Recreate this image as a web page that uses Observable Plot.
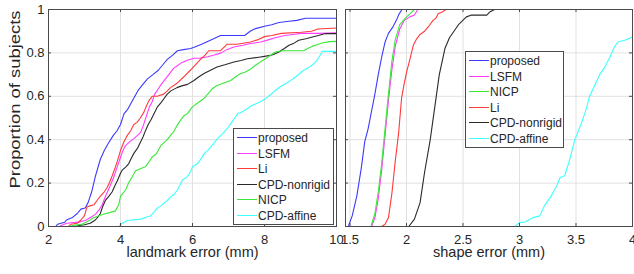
<!DOCTYPE html>
<html>
<head>
<meta charset="utf-8">
<script src="https://cdn.jsdelivr.net/npm/d3@7"></script>
<script src="https://cdn.jsdelivr.net/npm/@observablehq/plot@0.6"></script>
<style>
  html, body { margin: 0; padding: 0; background: #fff; }
  #wrap { position: relative; width: 634px; height: 274px; background: #fff; overflow: hidden; }
  #wrap svg { position: absolute; top: 0; overflow: visible; }
  .legend { position: absolute; background: #fff; border: 1px solid #4a4a4a; box-sizing: border-box;
            font-family: 'Liberation Sans', Arial, Helvetica, sans-serif; font-size: 12px; color: #262626; }
  .legend .row { position: absolute; left: 0; height: 16px; white-space: nowrap; }
  .legend .sw { position: absolute; left: 3px; top: 7px; width: 20px; height: 1px; }
  .legend .tx { position: absolute; left: 24px; top: 1px; line-height: 14px; }
</style>
</head>
<body>
<div id="wrap"></div>
<script>
// ---------- data ----------
const yTicks = [0, 0.2, 0.4, 0.6, 0.8, 1];
const landmarkTicks = [2, 4, 6, 8, 10];
const shapeTicks = [1.5, 2, 2.5, 3, 3.5, 4];

const landmarkNames = ["proposed", "LSFM", "Li", "CPD-nonrigid", "NICP", "CPD-affine"];
const shapeNames = ["proposed", "LSFM", "NICP", "Li", "CPD-nonrigid", "CPD-affine"];

const colors = {
  "proposed": "#3a3aff",
  "LSFM": "#ff3cff",
  "Li": "#ff3a3a",
  "CPD-nonrigid": "#2a2a2a",
  "NICP": "#3ae83a",
  "CPD-affine": "#3cffff"
};

// landmark error (mm) cumulative curves [error, proportion]
const lmProposed = [[2,0],[2.2,0],[2.25,0.01],[2.45,0.02],[2.5,0.03],[2.65,0.04],[2.8,0.06],[2.9,0.08],[3.02,0.085],[3.1,0.11],[3.2,0.16],[3.3,0.23],[3.44,0.31],[3.55,0.35],[3.65,0.38],[3.8,0.42],[3.9,0.44],[4.0,0.47],[4.1,0.52],[4.2,0.54],[4.33,0.58],[4.5,0.63],[4.6,0.65],[4.75,0.68],[4.9,0.70],[5.05,0.72],[5.2,0.75],[5.3,0.77],[5.45,0.79],[5.58,0.81],[5.75,0.815],[5.95,0.82],[6.1,0.83],[6.25,0.84],[6.45,0.855],[6.6,0.866],[6.78,0.88],[7.0,0.88],[7.45,0.88],[7.6,0.9],[7.75,0.912],[8.03,0.924],[8.2,0.93],[8.4,0.94],[8.68,0.946],[8.9,0.95],[9.14,0.96],[10,0.96]];
const lmLSFM = [[2,0],[2.3,0],[2.5,0.015],[2.84,0.02],[3.05,0.03],[3.2,0.045],[3.31,0.057],[3.4,0.075],[3.49,0.10],[3.56,0.13],[3.63,0.157],[3.72,0.19],[3.81,0.226],[3.9,0.27],[4.0,0.319],[4.07,0.35],[4.14,0.373],[4.25,0.39],[4.37,0.404],[4.47,0.42],[4.56,0.434],[4.65,0.473],[4.74,0.52],[4.8,0.55],[4.88,0.575],[4.95,0.61],[5.05,0.635],[5.11,0.65],[5.25,0.68],[5.39,0.71],[5.48,0.73],[5.57,0.74],[5.7,0.755],[5.85,0.766],[6.05,0.775],[6.22,0.776],[6.42,0.782],[6.6,0.79],[6.8,0.80],[6.95,0.815],[7.15,0.827],[7.4,0.835],[7.61,0.843],[7.9,0.85],[8.1,0.86],[8.3,0.87],[8.56,0.88],[8.8,0.885],[9.02,0.89],[9.5,0.89],[10,0.893]];
const lmLi = [[2,0],[2.55,0],[2.62,0.01],[2.8,0.015],[2.9,0.03],[3.0,0.05],[3.07,0.09],[3.15,0.095],[3.26,0.10],[3.35,0.12],[3.44,0.14],[3.55,0.16],[3.63,0.18],[3.7,0.205],[3.77,0.234],[3.85,0.27],[3.91,0.30],[4.0,0.35],[4.09,0.388],[4.19,0.42],[4.28,0.44],[4.37,0.47],[4.46,0.48],[4.55,0.50],[4.65,0.527],[4.72,0.555],[4.79,0.58],[4.88,0.60],[5.02,0.60],[5.2,0.61],[5.3,0.625],[5.39,0.64],[5.57,0.66],[5.76,0.69],[5.94,0.72],[6.08,0.745],[6.22,0.77],[6.35,0.79],[6.45,0.81],[6.78,0.81],[6.9,0.83],[6.96,0.84],[7.24,0.84],[7.61,0.85],[7.8,0.86],[8.0,0.875],[8.2,0.88],[8.47,0.89],[9.02,0.895],[9.3,0.9],[9.49,0.91],[10,0.915]];
const lmCPDnonrigid = [[2,0],[2.75,0],[2.85,0.005],[3.0,0.008],[3.16,0.015],[3.3,0.03],[3.38,0.045],[3.44,0.06],[3.5,0.09],[3.58,0.12],[3.68,0.14],[3.77,0.16],[3.85,0.19],[3.91,0.21],[4.0,0.245],[4.05,0.26],[4.15,0.275],[4.23,0.29],[4.3,0.315],[4.37,0.337],[4.47,0.36],[4.56,0.39],[4.63,0.415],[4.7,0.444],[4.77,0.47],[4.84,0.49],[4.93,0.52],[5.02,0.55],[5.12,0.57],[5.21,0.59],[5.3,0.61],[5.4,0.625],[5.57,0.64],[5.7,0.648],[5.86,0.655],[6.04,0.673],[6.18,0.69],[6.32,0.705],[6.5,0.72],[6.68,0.735],[6.9,0.745],[7.15,0.758],[7.35,0.765],[7.52,0.773],[7.84,0.78],[8.0,0.784],[8.21,0.79],[8.4,0.804],[8.55,0.82],[8.68,0.835],[8.82,0.845],[8.95,0.858],[9.15,0.865],[9.33,0.873],[9.5,0.88],[9.69,0.889],[10,0.889]];
const lmNICP = [[2,0],[2.55,0],[2.7,0.005],[2.94,0.011],[3.12,0.026],[3.25,0.04],[3.4,0.05],[3.55,0.058],[3.72,0.065],[3.86,0.072],[3.95,0.10],[4.0,0.14],[4.09,0.157],[4.16,0.175],[4.23,0.203],[4.33,0.23],[4.42,0.257],[4.6,0.27],[4.69,0.275],[4.8,0.30],[4.88,0.32],[5.0,0.335],[5.11,0.37],[5.2,0.385],[5.3,0.40],[5.39,0.42],[5.49,0.44],[5.57,0.465],[5.67,0.49],[5.76,0.51],[5.86,0.52],[5.99,0.55],[6.15,0.57],[6.32,0.59],[6.45,0.615],[6.55,0.635],[6.68,0.65],[6.85,0.66],[7.06,0.673],[7.2,0.69],[7.33,0.704],[7.47,0.712],[7.61,0.725],[7.75,0.743],[7.9,0.76],[8.03,0.773],[8.18,0.79],[8.3,0.804],[8.49,0.81],[9.09,0.81],[9.2,0.82],[9.32,0.83],[9.45,0.838],[9.6,0.846],[9.8,0.852],[10,0.853]];
const lmCPDaffine = [[2,0],[3.95,0],[4.05,0.015],[4.19,0.028],[4.56,0.034],[4.75,0.045],[4.84,0.05],[4.95,0.07],[5.02,0.084],[5.12,0.095],[5.21,0.107],[5.3,0.12],[5.4,0.138],[5.5,0.15],[5.58,0.168],[5.65,0.19],[5.72,0.214],[5.86,0.23],[5.95,0.255],[6.0,0.275],[6.14,0.29],[6.25,0.315],[6.33,0.337],[6.42,0.35],[6.51,0.367],[6.6,0.385],[6.7,0.406],[6.79,0.42],[6.88,0.436],[6.98,0.455],[7.07,0.475],[7.17,0.50],[7.26,0.52],[7.4,0.53],[7.53,0.544],[7.62,0.555],[7.75,0.565],[7.88,0.575],[8.03,0.589],[8.15,0.605],[8.3,0.627],[8.45,0.645],[8.58,0.658],[8.72,0.672],[8.86,0.689],[8.98,0.705],[9.09,0.72],[9.2,0.73],[9.32,0.743],[9.46,0.766],[9.55,0.79],[9.6,0.807],[10,0.807]];

// shape error (mm) cumulative curves [error, proportion]
const shProposed = [[1.46,0],[1.485,0],[1.52,0.05],[1.56,0.14],[1.60,0.27],[1.63,0.39],[1.66,0.45],[1.69,0.53],[1.72,0.61],[1.75,0.70],[1.78,0.78],[1.81,0.85],[1.84,0.89],[1.88,0.92],[1.91,0.95],[1.935,0.98],[1.96,1],[4,1]];
const shLSFM = [[1.46,0],[1.69,0],[1.72,0.04],[1.75,0.13],[1.78,0.26],[1.81,0.42],[1.84,0.58],[1.87,0.72],[1.90,0.83],[1.94,0.91],[1.98,0.95],[2.03,0.966],[2.07,0.975],[2.10,1],[4,1]];
const shNICP = [[1.46,0],[1.685,0],[1.72,0.06],[1.75,0.16],[1.78,0.29],[1.81,0.45],[1.84,0.61],[1.87,0.76],[1.90,0.86],[1.94,0.93],[1.99,0.96],[2.03,0.98],[2.07,1],[4,1]];
const shLi = [[1.46,0],[1.78,0],[1.81,0.01],[1.84,0.04],[1.87,0.15],[1.90,0.30],[1.93,0.43],[1.956,0.59],[1.98,0.66],[2.0,0.71],[2.03,0.77],[2.06,0.835],[2.09,0.865],[2.12,0.885],[2.16,0.90],[2.2,0.925],[2.235,0.95],[2.26,0.96],[2.28,0.98],[2.32,0.99],[2.35,1],[4,1]];
const shCPDnonrigid = [[1.46,0],[2.02,0],[2.07,0.034],[2.12,0.11],[2.16,0.25],[2.21,0.40],[2.25,0.55],[2.29,0.70],[2.34,0.82],[2.38,0.87],[2.42,0.90],[2.46,0.93],[2.53,0.966],[2.57,0.974],[2.71,0.974],[2.74,0.99],[2.78,1],[4,1]];
const shCPDaffine = [[1.46,0],[2.96,0],[3.0,0.018],[3.05,0.021],[3.12,0.041],[3.18,0.049],[3.22,0.095],[3.28,0.14],[3.33,0.188],[3.36,0.226],[3.40,0.234],[3.445,0.31],[3.49,0.40],[3.55,0.48],[3.59,0.54],[3.62,0.60],[3.665,0.65],[3.71,0.70],[3.75,0.73],[3.80,0.78],[3.84,0.827],[3.87,0.85],[3.93,0.858],[4.0,0.873]];

const landmarkSeries = {"proposed": lmProposed, "LSFM": lmLSFM, "Li": lmLi, "CPD-nonrigid": lmCPDnonrigid, "NICP": lmNICP, "CPD-affine": lmCPDaffine};
const shapeSeries = {"proposed": shProposed, "LSFM": shLSFM, "NICP": shNICP, "Li": shLi, "CPD-nonrigid": shCPDnonrigid, "CPD-affine": shCPDaffine};

// ---------- drawing ----------
const FONT = "'Liberation Sans', Arial, Helvetica, sans-serif";
const frameColor = "#4a4a4a";
const gridColor = "#e1e1e1";
const textColor = "#262626";
const H = 274, MT = 9, MB = 48;
const PH = H - MT - MB;

function panel({width, ml, mr, xDomain, xTicks, names, series, xLabel, yLabel}) {
  const PW = width - ml - mr;
  const marks = [
    Plot.ruleX(xTicks, {x: d => d, stroke: gridColor}),
    Plot.ruleY(yTicks, {y: d => d, stroke: gridColor}),
    ...names.map(n => Plot.line(series[n], {x: d => d[0], y: d => d[1], stroke: colors[n], strokeWidth: 1.1})),
    Plot.tickY(yTicks, {y: d => d, insetRight: PW - 3, stroke: frameColor}),
    Plot.tickY(yTicks, {y: d => d, insetLeft: PW - 3, stroke: frameColor}),
    Plot.tickX(xTicks, {x: d => d, insetTop: PH - 3, stroke: frameColor}),
    Plot.tickX(xTicks, {x: d => d, insetBottom: PH - 3, stroke: frameColor}),
    Plot.frame({stroke: frameColor}),
    Plot.text([xLabel], {frameAnchor: "bottom", lineAnchor: "middle", textAnchor: "middle", dy: 26, fontSize: 14.5, fill: textColor})
  ];
  if (yLabel) marks.push(Plot.text([yLabel], {frameAnchor: "left", lineAnchor: "middle", textAnchor: "middle", dx: -33, dy: -18.5, rotate: -90, fontSize: 14.5, fill: textColor}));
  const svg = Plot.plot({
    width, height: H, marginLeft: ml, marginRight: mr, marginTop: MT, marginBottom: MB,
    style: {fontFamily: FONT, fontSize: "13px", color: textColor, background: "transparent", overflow: "visible"},
    x: {domain: xDomain, ticks: xTicks, tickSize: 0, tickPadding: 8, tickFormat: d => String(d), label: null},
    y: yLabel ? {domain: [0, 1], ticks: yTicks, tickSize: 0, tickPadding: 4, tickFormat: d => String(d), label: null}
              : {domain: [0, 1], axis: null},
    marks
  });
  if (yLabel) {
    d3.select(svg).selectAll("text").filter(function() { return this.textContent === yLabel; })
      .attr("textLength", 178).attr("lengthAdjust", "spacingAndGlyphs");
  }
  return svg;
}

const wrap = document.getElementById("wrap");
const left = panel({width: 345, ml: 48, mr: 9, xDomain: [2, 10], xTicks: landmarkTicks, names: landmarkNames,
  series: landmarkSeries, xLabel: "landmark error (mm)", yLabel: "Proportion of subjects"});
left.style.left = "0px";
wrap.appendChild(left);

const right = panel({width: 298, ml: 9, mr: 2, xDomain: [1.46, 4], xTicks: shapeTicks, names: shapeNames,
  series: shapeSeries, xLabel: "shape error (mm)", yLabel: null});
right.style.left = "336px";
wrap.appendChild(right);

function legend(names, box) {
  const div = document.createElement("div");
  div.className = "legend";
  Object.assign(div.style, {left: box.left + "px", top: box.top + "px", width: box.width + "px", height: box.height + "px"});
  names.forEach((n, i) => {
    const row = document.createElement("div");
    row.className = "row";
    row.style.top = Math.round(1 + i * 15.6) + "px";
    const sw = document.createElement("div");
    sw.className = "sw";
    sw.style.backgroundColor = colors[n];
    const tx = document.createElement("div");
    tx.className = "tx";
    tx.textContent = n;
    row.appendChild(sw); row.appendChild(tx);
    div.appendChild(row);
  });
  wrap.appendChild(div);
}
legend(landmarkNames, {left: 233, top: 128, width: 101, height: 97});
legend(shapeNames, {left: 465, top: 51, width: 99, height: 97});
</script>
</body>
</html>
